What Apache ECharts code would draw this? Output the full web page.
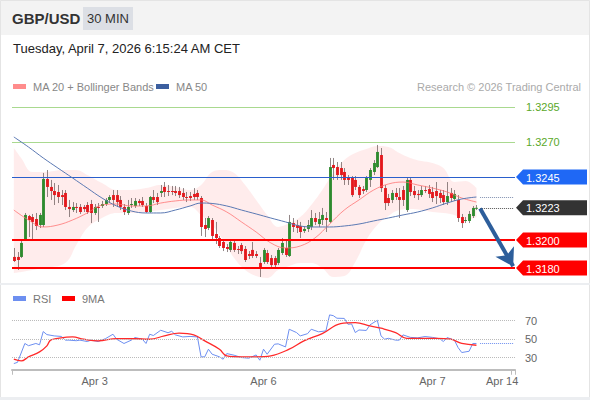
<!DOCTYPE html>
<html><head><meta charset="utf-8">
<script src="https://cdn.jsdelivr.net/npm/echarts@6/dist/echarts.min.js"></script>
<style>html,body{margin:0;padding:0;background:#fff}#c{width:590px;height:400px}</style>
</head><body><div id="c"></div>
<script>
// ---------- data ----------
const tickIndex = [22, 68, 114, 133];
const tickLabels = ['Apr 3', 'Apr 6', 'Apr 7', 'Apr 14'];
const slotCount = 137;

const opens = [1.31879,1.31879,1.31879,1.32000,1.32171,1.32164,1.32150,1.32107,1.32107,1.32436,
1.32379,1.32350,1.32343,1.32321,1.32336,1.32236,1.32214,1.32236,1.32236,1.32236,
1.32250,1.32257,1.32193,1.32236,1.32243,1.32257,1.32286,1.32321,1.32321,1.32286,
1.32236,1.32193,1.32250,1.32243,1.32279,1.32279,1.32243,1.32200,1.32307,1.32307,
1.32336,1.32379,1.32350,1.32350,1.32350,1.32350,1.32336,1.32307,1.32314,1.32329,
1.32336,1.32300,1.32107,1.32086,1.32143,1.32043,1.32014,1.31986,1.31950,1.31929,
1.31979,1.31936,1.31964,1.31936,1.31900,1.31929,1.31900,1.31836,1.31843,1.31907,
1.31871,1.31871,1.31836,1.31907,1.31943,1.31886,1.32121,1.32107,1.32100,1.32064,
1.32079,1.32093,1.32157,1.32114,1.32143,1.32157,1.32129,1.32536,1.32521,1.32514,
1.32486,1.32443,1.32443,1.32429,1.32379,1.32364,1.32357,1.32429,1.32486,1.32521,
1.32607,1.32371,1.32300,1.32286,1.32336,1.32307,1.32357,1.32214,1.32429,1.32350,
1.32329,1.32321,1.32357,1.32364,1.32343,1.32350,1.32336,1.32321,1.32271,1.32336,
1.32293,1.32286,1.32164,1.32136,1.32136,1.32171,1.32226];
const closes = [1.31850,1.31857,1.31979,1.32179,1.32143,1.32129,1.32100,1.32179,1.32436,1.32379,
1.32350,1.32321,1.32307,1.32307,1.32236,1.32221,1.32236,1.32229,1.32200,1.32221,
1.32200,1.32193,1.32236,1.32229,1.32257,1.32286,1.32307,1.32286,1.32271,1.32236,
1.32200,1.32236,1.32257,1.32279,1.32264,1.32250,1.32200,1.32307,1.32286,1.32271,
1.32350,1.32343,1.32343,1.32343,1.32336,1.32321,1.32307,1.32300,1.32300,1.32307,
1.32307,1.32093,1.32079,1.32157,1.32029,1.32014,1.31957,1.31943,1.31936,1.31986,
1.31929,1.31929,1.31921,1.31857,1.31886,1.31886,1.31886,1.31807,1.31929,1.31843,
1.31821,1.31821,1.31929,1.31979,1.31893,1.32129,1.32093,1.32086,1.32057,1.32079,
1.32107,1.32157,1.32129,1.32150,1.32179,1.32143,1.32521,1.32514,1.32464,1.32464,
1.32429,1.32429,1.32321,1.32379,1.32321,1.32350,1.32443,1.32500,1.32550,1.32629,
1.32371,1.32264,1.32264,1.32336,1.32307,1.32286,1.32286,1.32429,1.32343,1.32321,
1.32321,1.32357,1.32350,1.32329,1.32300,1.32314,1.32300,1.32271,1.32314,1.32300,
1.32329,1.32157,1.32121,1.32143,1.32186,1.32229,1.32230];
const lows = [1.31843,1.31786,1.31871,1.31993,1.32021,1.32000,1.32071,1.32086,1.32093,1.32307,
1.32286,1.32250,1.32264,1.32250,1.32214,1.32164,1.32200,1.32193,1.32186,1.32200,
1.32186,1.32121,1.32179,1.32129,1.32229,1.32243,1.32264,1.32236,1.32236,1.32214,
1.32179,1.32179,1.32229,1.32229,1.32243,1.32236,1.32193,1.32193,1.32264,1.32250,
1.32307,1.32307,1.32314,1.32321,1.32314,1.32300,1.32286,1.32271,1.32279,1.32286,
1.32286,1.32029,1.32021,1.32071,1.32000,1.31971,1.31943,1.31921,1.31914,1.31914,
1.31914,1.31900,1.31900,1.31843,1.31864,1.31871,1.31871,1.31736,1.31829,1.31829,
1.31807,1.31807,1.31821,1.31893,1.31879,1.31879,1.32057,1.32050,1.32014,1.32050,
1.32057,1.32071,1.32107,1.32093,1.32107,1.32057,1.32121,1.32429,1.32429,1.32429,
1.32393,1.32393,1.32307,1.32357,1.32300,1.32329,1.32343,1.32379,1.32464,1.32514,
1.32343,1.32214,1.32243,1.32264,1.32286,1.32157,1.32243,1.32200,1.32314,1.32300,
1.32286,1.32307,1.32336,1.32300,1.32271,1.32257,1.32264,1.32250,1.32250,1.32271,
1.32279,1.32129,1.32086,1.32121,1.32121,1.32157,1.32214];
const highs = [1.31943,1.31914,1.31993,1.32193,1.32179,1.32186,1.32193,1.32193,1.32479,1.32500,
1.32429,1.32407,1.32393,1.32357,1.32357,1.32286,1.32271,1.32264,1.32257,1.32250,
1.32271,1.32286,1.32257,1.32264,1.32279,1.32300,1.32321,1.32357,1.32357,1.32314,
1.32257,1.32286,1.32300,1.32300,1.32293,1.32307,1.32264,1.32314,1.32357,1.32336,
1.32393,1.32414,1.32393,1.32386,1.32386,1.32379,1.32371,1.32343,1.32343,1.32371,
1.32357,1.32314,1.32157,1.32171,1.32157,1.32129,1.32029,1.32000,1.31971,1.32000,
1.31993,1.31957,1.31979,1.31957,1.31921,1.31986,1.31921,1.31879,1.31943,1.31929,
1.31893,1.31886,1.31943,1.32014,1.32000,1.32179,1.32157,1.32143,1.32129,1.32100,
1.32143,1.32214,1.32193,1.32200,1.32229,1.32200,1.32586,1.32586,1.32557,1.32557,
1.32514,1.32464,1.32457,1.32457,1.32393,1.32386,1.32457,1.32514,1.32571,1.32679,
1.32657,1.32393,1.32329,1.32357,1.32371,1.32371,1.32386,1.32443,1.32443,1.32386,
1.32357,1.32386,1.32386,1.32393,1.32379,1.32414,1.32357,1.32357,1.32414,1.32371,
1.32357,1.32321,1.32186,1.32164,1.32207,1.32243,1.32250];

const maIdx = [0,4,8,12,16,20,24,28,32,36,40,44,48,51,54,58,62,66,70,74,78,82,86,90,94,98,102,106,110,114,118,122,126];
const ma20 = [1.32214,1.32143,1.32093,1.32107,1.32143,1.32193,1.32250,1.32257,1.32243,1.32243,1.32264,1.32279,1.32286,1.32286,1.32250,1.32200,1.32129,1.32057,1.31979,1.31943,1.31957,1.32014,1.32114,1.32214,1.32286,1.32357,1.32400,1.32414,1.32393,1.32371,1.32343,1.32300,1.32271];
const ma50 = [1.32736,1.32664,1.32586,1.32514,1.32443,1.32371,1.32300,1.32243,1.32207,1.32193,1.32193,1.32214,1.32243,1.32264,1.32261,1.32243,1.32214,1.32186,1.32157,1.32129,1.32100,1.32093,1.32093,1.32100,1.32114,1.32136,1.32157,1.32179,1.32200,1.32229,1.32264,1.32293,1.32307];

const bbIdx = [0,2,5,8,14,17,20,24,28,32,36,40,44,48,51,54,57,60,63,66,69,72,75,78,81,84,87,90,93,96,99,102,105,108,111,114,117,120,123,126];
const bbUpper = [1.32657,1.32586,1.32486,1.32486,1.32500,1.32500,1.32464,1.32407,1.32357,1.32357,1.32371,1.32393,1.32379,1.32357,1.32393,1.32486,1.32500,1.32479,1.32393,1.32286,1.32179,1.32093,1.32121,1.32164,1.32250,1.32357,1.32479,1.32571,1.32621,1.32650,1.32671,1.32664,1.32621,1.32586,1.32564,1.32550,1.32514,1.32414,1.32421,1.32371];
const bbLower = [1.31764,1.31771,1.31786,1.31800,1.31836,1.31964,1.32086,1.32157,1.32193,1.32193,1.32200,1.32214,1.32229,1.32236,1.32179,1.32107,1.32000,1.31871,1.31786,1.31743,1.31729,1.31786,1.31814,1.31836,1.31836,1.31800,1.31736,1.31743,1.31843,1.32000,1.32107,1.32171,1.32214,1.32221,1.32214,1.32200,1.32193,1.32179,1.32143,1.32164];

const rsiIdx = [0,1,3,4,6,7,8,9,11,13,14,15,17,18,20,21,23,25,27,28,30,32,33,35,36,37,38,40,42,43,44,46,48,50,51,52,53,54,56,57,58,60,62,64,66,67,68,69,71,72,74,75,77,78,80,81,83,85,86,87,88,90,91,92,93,94,96,97,99,100,101,102,104,105,106,108,110,112,114,116,117,118,120,121,122,124,125,126];
const rsiVal = [23.7,25,45.4,43,45.4,44,58.3,55,53.6,53,49,49,48.4,49,47.5,49,47.5,50.7,55.4,50,45.4,49,51.8,50,45.4,55.4,54,59.7,57,58.6,54.7,52.5,53,52.5,30.9,31,39.2,33.8,31,28.4,34.5,32.7,30.2,29.5,33,27.3,39.2,33.8,44.6,45,41.7,60.8,57.2,53.6,56,60.8,58,59,76.3,75.5,72.7,72.5,66.2,66.5,57.2,60,59.5,65.5,70.5,53.6,50,51,49,49,54.7,52,51.5,52.9,52,50.5,47.5,51.8,49,41,35.6,37,45.4,45.4];
const ma9Idx = [0,2,4,7,9,10,12,16,19,23,28,33,37,41,45,49,52,56,58,62,66,70,75,79,84,89,93,97,100,104,107,111,115,119,122,126];
const ma9Val = [28.4,26.5,30.9,36.3,42.8,49,51,52.5,50,48.2,50.7,50.5,50,53.6,56.5,54.7,48.2,39.2,32,31,31,32,39.2,48.2,56.1,66.9,68,64.4,61.9,57.2,51,51,51,50,45.4,43.5];

const lastClose = 1.3223;
const greenLevels = [1.3295, 1.3270];
const blueLevel = 1.3245;
const redLevels = [1.3200, 1.3180];
const targetLevel = 1.31812;
const rsiLevels = [30, 50, 70];

// ---------- build ----------
const cats = Array.from({length: slotCount}, (_, i) => 'c' + i);
const labelOf = {}; tickIndex.forEach((t, k) => labelOf[t] = tickLabels[k]);
const candleData = opens.map((o, i) => [i, o, closes[i], lows[i], highs[i]]);
const pairs = (idx, vals) => idx.map((x, k) => [x, vals[k]]);
const FONT = 'Arial, "Liberation Sans", sans-serif';
const lastIdx = opens.length - 1;

const chart = echarts.init(document.getElementById('c'), null, {renderer: 'svg'});

function lvl(v, color, width, labelColor) {
  return {yAxis: v, lineStyle: {color: color, width: width, type: 'solid'},
    label: labelColor ? {show: true, position: 'end', distance: 11, formatter: v.toFixed(4), color: labelColor, fontSize: 11, fontFamily: FONT} : {show: false}};
}

const option = {
  animation: false,
  grid: [
    {left: 12, right: 75, top: 100, height: 182},
    {left: 12, right: 75, top: 305, height: 64.75}
  ],
  xAxis: [
    {type: 'category', gridIndex: 0, data: cats, boundaryGap: true, show: false},
    {type: 'category', gridIndex: 1, data: cats, boundaryGap: true,
     axisLine: {lineStyle: {color: '#bdbdbd', width: 2}},
     axisTick: {show: true, length: 5, interval: (i) => i === 0 || i === slotCount - 1, lineStyle: {color: '#bdbdbd', width: 1}},
     axisLabel: {interval: (i) => labelOf[i] !== undefined, formatter: (v, i) => labelOf[i] || '', color: '#666', fontSize: 11, fontFamily: FONT, margin: 6}}
  ],
  yAxis: [
    {type: 'value', gridIndex: 0, min: 1.3170, max: 1.3300, show: false, splitLine: {show: false}},
    {type: 'value', gridIndex: 1, min: 17, max: 87, show: false, splitLine: {show: false}}
  ],
  series: [
    {type: 'line', name: 'bbLow', data: pairs(bbIdx, bbLower), stack: 'bb', smooth: 0.4, symbol: 'none', silent: true,
     lineStyle: {opacity: 0}, z: 1},
    {type: 'line', name: 'bbBand', data: bbIdx.map((x, k) => [x, +(bbUpper[k] - bbLower[k]).toFixed(5)]), stack: 'bb', smooth: 0.4, symbol: 'none', silent: true,
     lineStyle: {opacity: 0}, areaStyle: {color: 'rgba(255,140,140,0.24)', origin: 'start'}, z: 1},
    {type: 'custom', name: 'price', data: candleData, encode: {x: 0, y: [1, 2, 3, 4]}, z: 3,
     renderItem: function (params, api) {
       const i = api.value(0), o = api.value(1), c = api.value(2), l = api.value(3), h = api.value(4);
       const pO = api.coord([i, o]), pC = api.coord([i, c]), pL = api.coord([i, l]), pH = api.coord([i, h]);
       const w = api.size([1, 0])[0] * 0.78;
       const x = Math.round(pO[0]) + 0.5;
       const top = Math.min(pO[1], pC[1]), bot = Math.max(pO[1], pC[1]);
       const up = c >= o;
       return {type: 'group', children: [
         {type: 'line', shape: {x1: x, y1: pH[1], x2: x, y2: pL[1]}, style: {stroke: 'rgba(110,95,95,0.75)', lineWidth: 1}},
         {type: 'rect', shape: {x: x - w / 2, y: top, width: w, height: Math.max(bot - top, 1)}, style: {fill: up ? '#2e8a2e' : '#e3181c'}}
       ]};
     }},
    {type: 'line', name: 'MA 20', data: pairs(maIdx, ma20), smooth: 0.4, symbol: 'none', z: 4,
     lineStyle: {color: 'rgba(255,110,110,0.75)', width: 1}},
    {type: 'line', name: 'MA 50', data: pairs(maIdx, ma50), smooth: 0.4, symbol: 'none', z: 5,
     lineStyle: {color: '#5b79b3', width: 1},
     markLine: {silent: true, symbol: ['none', 'none'], precision: 6, animation: false,
       data: [
         lvl(greenLevels[0], '#a9d98f', 1, '#5aa82a'),
         lvl(greenLevels[1], '#a9d98f', 1, '#5aa82a'),
         lvl(blueLevel, '#2a5fcc', 1, null),
         lvl(redLevels[0], '#ff0000', 2, null),
         lvl(redLevels[1], '#ff0000', 2, null),
         [{coord: [lastIdx + 1, ma50[ma50.length - 1]], lineStyle: {color: '#8090b0', type: 'dotted', width: 1}, label: {show: false}},
          {coord: [slotCount - 1, ma50[ma50.length - 1]]}],
         [{coord: [lastIdx + 1, lastClose], lineStyle: {color: '#555', type: 'dotted', width: 1}, label: {show: false}},
          {coord: [slotCount - 1, lastClose]}],
         [{coord: [lastIdx + 1, lastClose - 0.00005], symbol: 'none', lineStyle: {color: '#2d5e9b', type: 'solid', width: 4}, label: {show: false}},
          {coord: [slotCount - 1, targetLevel], symbol: 'arrow', symbolSize: [16, 17]}]
       ]}},
    {type: 'line', name: 'RSI', xAxisIndex: 1, yAxisIndex: 1, data: pairs(rsiIdx, rsiVal), symbol: 'none',
     lineStyle: {color: '#6d8ff0', width: 1}, z: 3,
     markLine: {silent: true, symbol: ['none', 'none'], precision: 4,
       data: rsiLevels.map(v => ({yAxis: v, lineStyle: {color: '#bbbbbb', type: 'dotted', width: 1},
         label: {show: true, position: 'end', distance: 10, formatter: String(v), color: '#666', fontSize: 11, fontFamily: FONT}}))
         .concat([[{coord: [lastIdx + 1, rsiVal[rsiVal.length - 1]], lineStyle: {color: '#6d8ff0', type: 'dotted', width: 1}, label: {show: false}},
                   {coord: [slotCount - 1, rsiVal[rsiVal.length - 1]]}]])}},
    {type: 'line', name: '9MA', xAxisIndex: 1, yAxisIndex: 1, data: pairs(ma9Idx, ma9Val), smooth: 0.4, symbol: 'none',
     lineStyle: {color: '#ff2a2a', width: 1.3}, z: 4}
  ]
};
chart.setOption(option);

// ---------- text, legends and level boxes ----------
const txt = (x, y, s, opt) => Object.assign({type: 'text', x: x, y: y, silent: true,
  style: Object.assign({text: s, fontFamily: FONT, fontSize: 11, fill: '#888', verticalAlign: 'middle'}, opt || {})});
const boxes = [
  {v: blueLevel, c: '#1f68f5'},
  {v: lastClose, c: '#333333'},
  {v: redLevels[0], c: '#ff0000'},
  {v: redLevels[1], c: '#ff0000'}
];
const g = [
  {type: 'rect', shape: {x: 0, y: 0, width: 590, height: 35}, style: {fill: '#f3f3f3'}, silent: true},
  {type: 'rect', shape: {x: 0.5, y: 0.5, width: 589, height: 399}, style: {fill: 'none', stroke: '#e4e4e4', lineWidth: 1}, silent: true},
  {type: 'rect', shape: {x: 0, y: 283, width: 590, height: 2}, style: {fill: '#eceef1'}, silent: true},
  {type: 'rect', shape: {x: 0, y: 397, width: 590, height: 3}, style: {fill: '#eceef1'}, silent: true},
  txt(12, 18, 'GBP/USD', {fontSize: 15, fontWeight: 'bold', fill: '#333'}),
  {type: 'rect', shape: {x: 83, y: 7, width: 50, height: 23}, style: {fill: '#dcdfe5'}, silent: true},
  txt(108, 18.5, '30 MIN', {fontSize: 13, fill: '#333', align: 'center'}),
  txt(13, 48, 'Tuesday, April 7, 2026 6:15:24 AM CET', {fontSize: 13, fill: '#222'}),
  {type: 'rect', shape: {x: 13, y: 84, width: 13, height: 5}, style: {fill: '#ff8c8c'}, silent: true},
  txt(33, 86.5, 'MA 20 + Bollinger Bands'),
  {type: 'rect', shape: {x: 156, y: 84, width: 13, height: 5}, style: {fill: '#3c5f9f'}, silent: true},
  txt(176, 86.5, 'MA 50'),
  txt(581, 86.5, 'Research \u00a9 2026 Trading Central', {fill: '#aaa', align: 'right'}),
  {type: 'rect', shape: {x: 13, y: 296, width: 13, height: 5}, style: {fill: '#6d8ff0'}, silent: true},
  txt(33, 298.5, 'RSI', {fill: '#777'}),
  {type: 'rect', shape: {x: 62, y: 296, width: 13, height: 5}, style: {fill: '#ff0000'}, silent: true},
  txt(82, 298.5, '9MA', {fill: '#777'})
];
boxes.forEach(b => {
  const y = chart.convertToPixel({yAxisIndex: 0}, b.v);
  g.push({type: 'polygon', silent: true, shape: {points: [[516, y], [523, y - 7.5], [587, y - 7.5], [587, y + 7.5], [523, y + 7.5]]}, style: {fill: b.c}});
  g.push(txt(526, y + 0.5, b.v.toFixed(4), {fill: '#fff', fontSize: 11}));
});
chart.setOption({graphic: g});
</script></body></html>
